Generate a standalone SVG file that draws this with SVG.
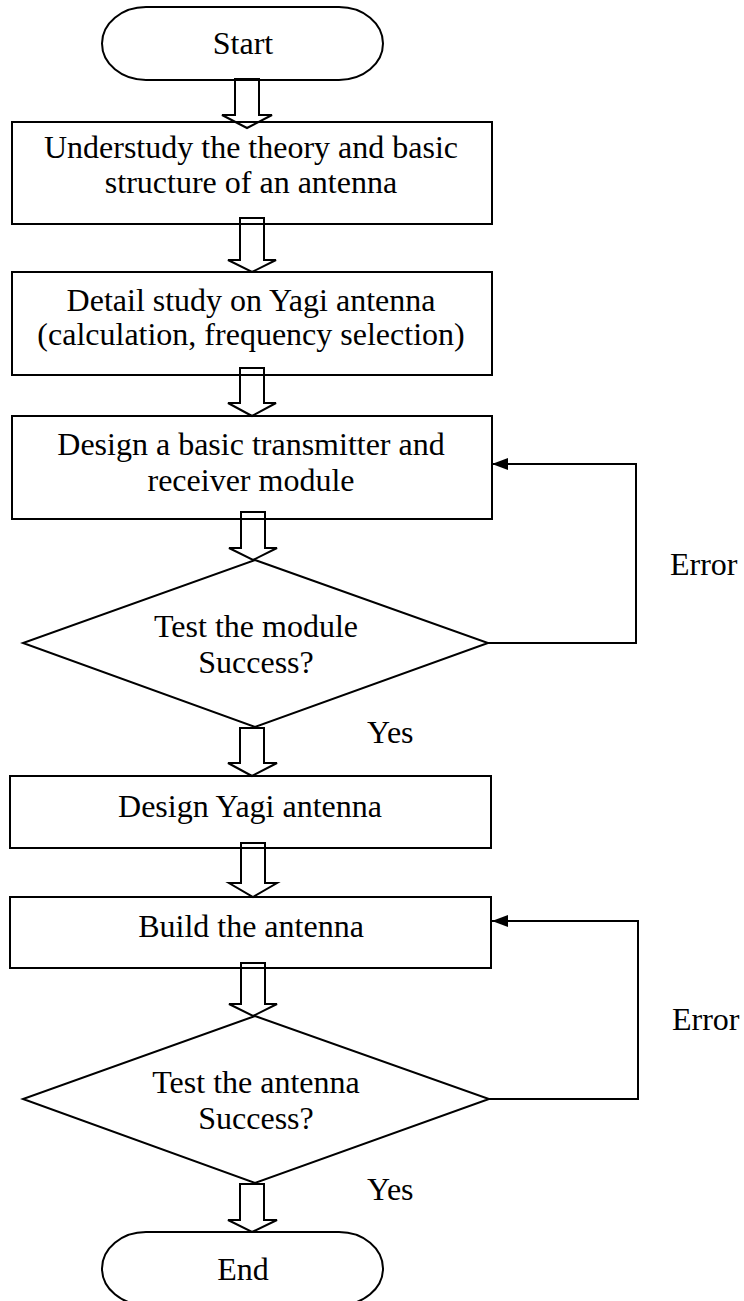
<svg xmlns="http://www.w3.org/2000/svg" width="744" height="1301" viewBox="0 0 744 1301">
  <style>
    .shape { fill: #ffffff; stroke: #000000; stroke-width: 2; }
    .barrow { fill: none; stroke: #000000; stroke-width: 2; stroke-linejoin: miter; }
    .conn { fill: none; stroke: #000000; stroke-width: 2; }
    text { font-family: "Liberation Serif", "Times New Roman", serif; font-size: 32px; fill: #000000; }
    .c { text-anchor: middle; }
  </style>
  <defs>
    <marker id="ah" markerUnits="userSpaceOnUse" markerWidth="16" markerHeight="12" refX="16" refY="6" orient="auto">
      <path d="M0,0 L16,6 L0,12 z" fill="#000000"/>
    </marker>
  </defs>
  <rect width="744" height="1301" fill="#ffffff"/>

  <g id="start">
    <rect class="shape" x="102" y="7" width="281" height="73" rx="44" ry="36.5"/>
    <text class="c" x="243" y="54">Start</text>
  </g>
  <g id="understudy">
    <rect class="shape" x="12" y="122" width="480" height="102"/>
    <text class="c" x="251" y="158">Understudy the theory and basic</text>
    <text class="c" x="251" y="193">structure of an antenna</text>
  </g>
  <g id="detail">
    <rect class="shape" x="12" y="272" width="480" height="103"/>
    <text class="c" x="251" y="311">Detail study on Yagi antenna</text>
    <text class="c" x="251" y="345">(calculation, frequency selection)</text>
  </g>
  <g id="design-module">
    <rect class="shape" x="12" y="416" width="480" height="103"/>
    <text class="c" x="251" y="455">Design a basic transmitter and</text>
    <text class="c" x="251" y="491">receiver module</text>
  </g>
  <g id="test-module">
    <polygon class="shape" points="255,560 488,643 255,727 23,643"/>
    <text class="c" x="256" y="637">Test the module</text>
    <text class="c" x="256" y="673">Success?</text>
  </g>
  <g id="design-yagi">
    <rect class="shape" x="10" y="776" width="481" height="72"/>
    <text class="c" x="250" y="817">Design Yagi antenna</text>
  </g>
  <g id="build">
    <rect class="shape" x="10" y="897" width="481" height="71"/>
    <text class="c" x="251" y="937">Build the antenna</text>
  </g>
  <g id="test-antenna">
    <polygon class="shape" points="255,1016 489,1099 255,1183 23,1099"/>
    <text class="c" x="256" y="1093">Test the antenna</text>
    <text class="c" x="256" y="1129">Success?</text>
  </g>
  <g id="end">
    <rect class="shape" x="102" y="1232" width="281" height="73" rx="44" ry="36.5"/>
    <text class="c" x="243" y="1280">End</text>
  </g>

  <g id="connectors">
    <polygon class="barrow" points="235,79 259,79 259,115 272,115 247,128 222,115 235,115"/>
    <polygon class="barrow" points="240,218 264,218 264,260 276,260 252,272 228,260 240,260"/>
    <polygon class="barrow" points="240,368 264,368 264,403 276,403 252,416 228,403 240,403"/>
    <polygon class="barrow" points="241,512 265,512 265,548 277,548 253,560 229,548 241,548"/>
    <polygon class="barrow" points="240,728 264,728 264,763 277,763 252,776 228,763 240,763"/>
    <polygon class="barrow" points="241,843 265,843 265,883 277,883 253,897 229,883 241,883"/>
    <polygon class="barrow" points="241,963 265,963 265,1004 277,1004 253,1016 229,1004 241,1004"/>
    <polygon class="barrow" points="240,1184 264,1184 264,1220 277,1220 252,1232 228,1220 240,1220"/>
    <polyline class="conn" points="488,643 636,643 636,464 492,464" marker-end="url(#ah)"/>
    <polyline class="conn" points="489,1099 638,1099 638,921 492,921" marker-end="url(#ah)"/>
  </g>

  <g id="labels">
    <text x="670" y="575">Error</text>
    <text x="367" y="743">Yes</text>
    <text x="672" y="1030">Error</text>
    <text x="367" y="1200">Yes</text>
  </g>
</svg>
